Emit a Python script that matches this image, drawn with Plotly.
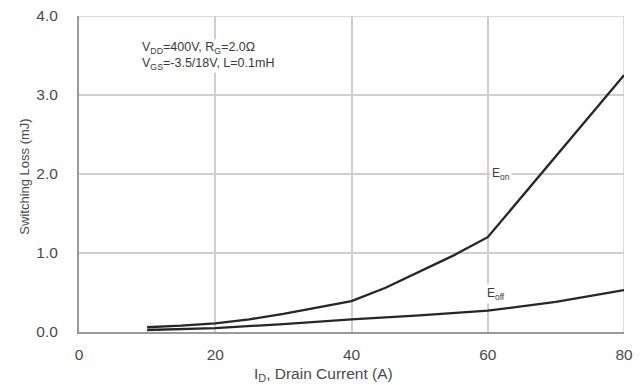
import plotly.graph_objects as go

# Drain current (A) and switching energies (mJ)
id_eon = [10, 15, 20, 25, 30, 35, 40, 45, 50, 55, 60, 70, 80]
e_on = [0.06, 0.08, 0.11, 0.16, 0.23, 0.31, 0.39, 0.56, 0.76, 0.97, 1.20, 2.22, 3.25]

id_eoff = [10, 20, 30, 40, 50, 60, 70, 80]
e_off = [0.025, 0.05, 0.10, 0.16, 0.21, 0.27, 0.38, 0.53]

x_ticks = [0, 20, 40, 60, 80]
y_ticks = [0.0, 1.0, 2.0, 3.0, 4.0]
y_tick_text = ["0.0", "1.0", "2.0", "3.0", "4.0"]

line_color = "#262626"
grid_color = "#cfcfcf"
axis_color = "#9a9a9a"
text_color = "#4a4a4a"
font_family = "Liberation Sans, Arial, sans-serif"

fig = go.Figure()
fig.add_trace(go.Scatter(x=id_eon, y=e_on, mode="lines",
                         line=dict(color=line_color, width=2.3), name="Eon"))
fig.add_trace(go.Scatter(x=id_eoff, y=e_off, mode="lines",
                         line=dict(color=line_color, width=2.3), name="Eoff"))

fig.update_layout(
    width=644, height=385,
    margin=dict(l=79, r=20, t=16, b=53),
    paper_bgcolor="white", plot_bgcolor="white",
    showlegend=False,
    font=dict(family=font_family, size=15, color=text_color),
    xaxis=dict(
        range=[0, 80], tickvals=x_ticks, ticktext=[str(v) for v in x_ticks],
        showgrid=True, gridcolor=grid_color, gridwidth=1.5,
        showline=True, linecolor=axis_color, linewidth=2, mirror=False,
        zeroline=False, ticks="", ticklabelstandoff=7,
        tickfont=dict(size=15.5), automargin=False,
    ),
    yaxis=dict(
        range=[0, 4.0], tickvals=y_ticks, ticktext=y_tick_text,
        showgrid=True, gridcolor=grid_color, gridwidth=1.5,
        showline=True, linecolor=axis_color, linewidth=2, mirror=False,
        zeroline=False, ticks="", ticklabelstandoff=16,
        tickfont=dict(size=15.5), automargin=False,
    ),
)

# top and right edges of the frame
fig.add_shape(type="line", xref="x", yref="y", x0=80, x1=80, y0=0, y1=4,
              line=dict(color=grid_color, width=1.5), layer="below")
fig.add_shape(type="line", xref="x", yref="y", x0=0, x1=80, y0=4, y1=4,
              line=dict(color=grid_color, width=1.5), layer="below")

# axis titles
fig.add_annotation(x=0.4495, y=-0.136, xref="paper", yref="paper",
                   xanchor="center", yanchor="middle", showarrow=False,
                   text="I<sub>D</sub>, Drain Current (A)",
                   font=dict(size=15.5, color=text_color, family=font_family))
fig.add_annotation(x=-0.1, y=0.49, xref="paper", yref="paper",
                   xanchor="center", yanchor="middle", showarrow=False,
                   textangle=-90, text="Switching Loss (mJ)",
                   font=dict(size=13, color=text_color, family=font_family))

# test conditions
fig.add_annotation(x=9.1, y=3.50, xref="x", yref="y", xanchor="left", yanchor="middle",
                   text="V<sub>DD</sub>=400V, R<sub>G</sub>=2.0Ω<br>"
                        "V<sub>GS</sub>=-3.5/18V, L=0.1mH",
                   showarrow=False, bgcolor="white", borderpad=0, align="left",
                   font=dict(size=12.5, color="#3a3a3a", family=font_family))

# curve labels
fig.add_annotation(x=62, y=2.0, xref="x", yref="y", text="E<sub>on</sub>",
                   showarrow=False, bgcolor="white",
                   font=dict(size=12, color="#3a3a3a", family=font_family))
fig.add_annotation(x=61.2, y=0.48, xref="x", yref="y", text="E<sub>off</sub>",
                   showarrow=False, bgcolor="white",
                   font=dict(size=12, color="#3a3a3a", family=font_family))

fig.write_html("out.html")
